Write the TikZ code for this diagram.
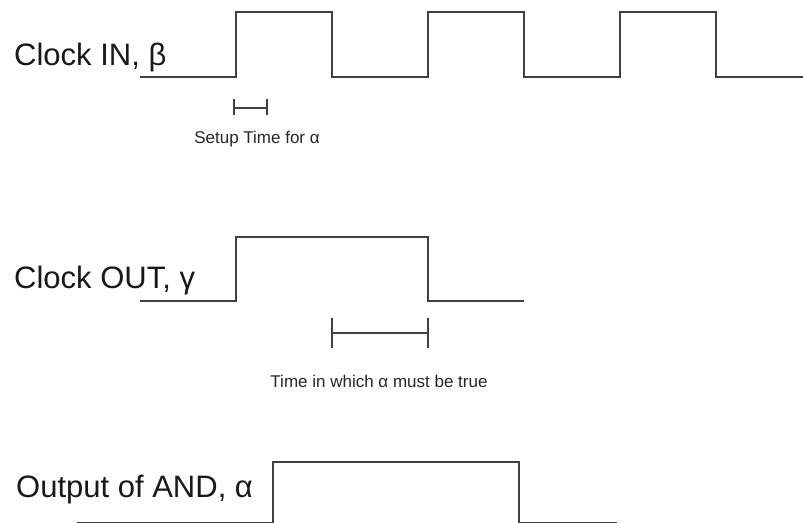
\documentclass[tikz,border=0pt]{standalone}
\usepackage{fontspec}
\setmainfont{Liberation Sans}
\begin{document}
\begin{tikzpicture}[x=1pt,y=-1pt,
    wave/.style={draw=black!75,line width=1.4pt,line join=miter},
    span/.style={draw=black!75,line width=1.2pt},
    biglabel/.style={anchor=base west,inner sep=0pt,font=\fontsize{31}{31}\selectfont,text=black!90},
    smalllabel/.style={anchor=base,inner sep=0pt,font=\fontsize{17}{17}\selectfont,text=black!85}]
  \useasboundingbox (0,0) rectangle (803,522);
  \clip (0,0) rectangle (803,522);

  % signal names
  \node[biglabel] (lin)  at (14,65)  {Clock IN, β};
  \node[biglabel] (lout) at (14,288) {Clock OUT, γ};
  \node[biglabel] (land) at (16,497) {Output of AND, α};

  % input clock beta
  \draw[wave] (140,77) -- (236,77) -- (236,12) -- (332,12) -- (332,77)
    -- (428,77) -- (428,12) -- (524,12) -- (524,77)
    -- (620,77) -- (620,12) -- (716,12) -- (716,77) -- (803,77);

  % output clock gamma
  \draw[wave] (140,301) -- (236,301) -- (236,237) -- (428,237) -- (428,301) -- (524,301);

  % output of the AND gate alpha (its low level runs along the lower edge)
  \draw[wave] (77,522.2) -- (273,522.2) -- (273,462) -- (519,462) -- (519,522.2) -- (617,522.2);

  % setup time interval
  \coordinate (s1) at (234,108);
  \coordinate (s2) at (267,108);
  \draw[span] (s1) -- (s2);
  \draw[span] ([yshift=-7pt]s1) -- ([yshift=9pt]s1);
  \draw[span] ([yshift=-7pt]s2) -- ([yshift=9pt]s2);
  \node[smalllabel] (tsetup) at (257,143) {Setup Time for α};

  % interval in which alpha must hold
  \coordinate (m1) at (332,333);
  \coordinate (m2) at (428,333);
  \draw[span] (m1) -- (m2);
  \draw[span] ([yshift=-15pt]m1) -- ([yshift=15pt]m1);
  \draw[span] ([yshift=-15pt]m2) -- ([yshift=15pt]m2);
  \node[smalllabel] (thold) at (379,387) {Time in which α must be true};
\end{tikzpicture}
\end{document}
